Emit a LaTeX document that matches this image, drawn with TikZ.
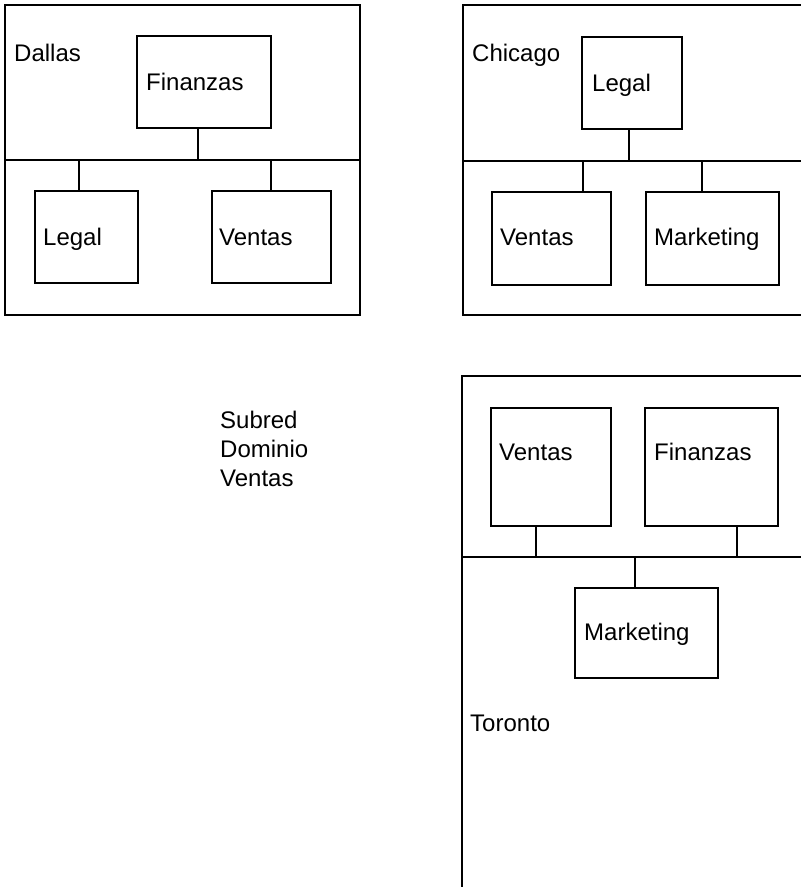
\documentclass[tikz,border=0pt]{standalone}
\usepackage{fontspec}
\setmainfont{Liberation Sans}
\begin{document}
\begin{tikzpicture}[x=1pt,y=-1pt,
  frame/.style={line width=1.3pt},
  unit/.style={draw,line width=1.3pt,rectangle,inner sep=0pt},
  link/.style={line width=1.1pt},
  lbl/.style={anchor=base west,inner sep=0pt,font=\fontsize{24}{29}\selectfont}]
\useasboundingbox[fill=white] (0,0) rectangle (801,887);

% ---- Dallas ----
\draw[frame] (5,5) rectangle (360,315);
\draw[frame] (5,160) -- (360,160);
\node[lbl] (dname) at (14,61) {Dallas};
\node[unit,minimum width=134pt,minimum height=92pt] (dfin) at (204,82) {};
\node[unit,minimum width=103pt,minimum height=92pt] (dleg) at (86.5,237) {};
\node[unit,minimum width=119pt,minimum height=92pt] (dven) at (271.5,237) {};
\node[lbl] (dfinT) at (146,90) {Finanzas};
\node[lbl] (dlegT) at (43,245) {Legal};
\node[lbl] (dvenT) at (219,245) {Ventas};
\coordinate (dc1) at (198,160);
\coordinate (dc2) at (79,160);
\coordinate (dc3) at (271,160);
\draw[link] (dc1) -- (dc1 |- dfin.south);
\draw[link] (dc2) -- (dc2 |- dleg.north);
\draw[link] (dc3) -- (dc3 |- dven.north);

% ---- Chicago ----
\draw[frame] (801,5) -- (463,5) -- (463,315) -- (801,315);
\draw[frame] (463,161) -- (801,161);
\node[lbl] (cname) at (472,61) {Chicago};
\node[unit,minimum width=100pt,minimum height=92pt] (cleg) at (632,83) {};
\node[unit,minimum width=119pt,minimum height=93pt] (cven) at (551.5,238.5) {};
\node[unit,minimum width=133pt,minimum height=93pt] (cmkt) at (712.5,238.5) {};
\node[lbl] (clegT) at (592,91) {Legal};
\node[lbl] (cvenT) at (500,245) {Ventas};
\node[lbl] (cmktT) at (654,245) {Marketing};
\coordinate (cc1) at (629,161);
\coordinate (cc2) at (583,161);
\coordinate (cc3) at (702,161);
\draw[link] (cc1) -- (cc1 |- cleg.south);
\draw[link] (cc2) -- (cc2 |- cven.north);
\draw[link] (cc3) -- (cc3 |- cmkt.north);

% ---- Toronto ----
\draw[frame] (801,376) -- (462,376) -- (462,887);
\draw[frame] (462,557) -- (801,557);
\node[lbl] (tname) at (470,731) {Toronto};
\node[unit,minimum width=120pt,minimum height=118pt] (tven) at (551,467) {};
\node[unit,minimum width=133pt,minimum height=118pt] (tfin) at (711.5,467) {};
\node[unit,minimum width=143pt,minimum height=90pt] (tmkt) at (646.5,633) {};
\node[lbl] (tvenT) at (499,460) {Ventas};
\node[lbl] (tfinT) at (654,460) {Finanzas};
\node[lbl] (tmktT) at (584,640) {Marketing};
\coordinate (tc1) at (536,557);
\coordinate (tc2) at (737,557);
\coordinate (tc3) at (635,557);
\draw[link] (tc1) -- (tc1 |- tven.south);
\draw[link] (tc2) -- (tc2 |- tfin.south);
\draw[link] (tc3) -- (tc3 |- tmkt.north);

% ---- subnet caption ----
\node[lbl] (sub1) at (220,428) {Subred};
\node[lbl] (sub2) at (220,457) {Dominio};
\node[lbl] (sub3) at (220,486) {Ventas};
\end{tikzpicture}
\end{document}
